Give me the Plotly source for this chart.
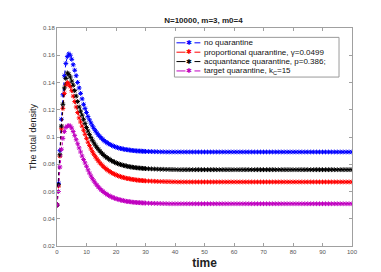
import plotly.graph_objects as go

times = [i / 2 for i in range(61)] + list(range(31, 101))

no_q = [
    0.050, 0.066, 0.090, 0.113, 0.131, 0.145, 0.154, 0.159, 0.161, 0.160,
    0.157, 0.153, 0.149, 0.145, 0.140, 0.136, 0.132, 0.128, 0.124, 0.121,
    0.118, 0.115, 0.1126, 0.1103, 0.1082, 0.1063, 0.1046, 0.1030, 0.1016, 0.1004,
    0.0993, 0.0982, 0.0973, 0.0965, 0.0958, 0.0951, 0.0945, 0.0939, 0.0934, 0.0930,
    0.0926, 0.0922, 0.0919, 0.0916, 0.0914, 0.0911, 0.0909, 0.0907, 0.0906, 0.0904,
    0.0903, 0.0901, 0.0900, 0.0899, 0.0898, 0.0897, 0.0897, 0.0896, 0.0895, 0.0895,
    0.0894,
    0.0893, 0.0893, 0.0892, 0.0892, 0.0891, 0.0891, 0.0890, 0.0890, 0.0890, 0.0890,
    0.089, 0.089, 0.089, 0.089, 0.089, 0.089, 0.089, 0.089, 0.089, 0.089,
    0.089, 0.089, 0.089, 0.089, 0.089, 0.089, 0.089, 0.089, 0.089, 0.089,
    0.089, 0.089, 0.089, 0.089, 0.089, 0.089, 0.089, 0.089, 0.089, 0.089,
    0.089, 0.089, 0.089, 0.089, 0.089, 0.089, 0.089, 0.089, 0.089, 0.089,
    0.089, 0.089, 0.089, 0.089, 0.089, 0.089, 0.089, 0.089, 0.089, 0.089,
    0.089, 0.089, 0.089, 0.089, 0.089, 0.089, 0.089, 0.089, 0.089, 0.089,
]

proportional = [
    0.050, 0.064, 0.086, 0.106, 0.121, 0.132, 0.138, 0.140, 0.139, 0.137,
    0.134, 0.130, 0.126, 0.122, 0.118, 0.114, 0.111, 0.108, 0.105, 0.102,
    0.099, 0.0962, 0.0937, 0.0913, 0.0892, 0.0873, 0.0855, 0.0839, 0.0825, 0.0811,
    0.0799, 0.0788, 0.0777, 0.0768, 0.0760, 0.0752, 0.0745, 0.0738, 0.0732, 0.0727,
    0.0722, 0.0717, 0.0713, 0.0709, 0.0706, 0.0703, 0.0700, 0.0697, 0.0695, 0.0693,
    0.0691, 0.0689, 0.0687, 0.0686, 0.0684, 0.0683, 0.0682, 0.0681, 0.0680, 0.0679,
    0.0678,
    0.0677, 0.0676, 0.0675, 0.0674, 0.0673, 0.0673, 0.0672, 0.0672, 0.0671, 0.0671,
    0.067, 0.067, 0.067, 0.067, 0.067, 0.067, 0.067, 0.067, 0.067, 0.067,
    0.067, 0.067, 0.067, 0.067, 0.067, 0.067, 0.067, 0.067, 0.067, 0.067,
    0.067, 0.067, 0.067, 0.067, 0.067, 0.067, 0.067, 0.067, 0.067, 0.067,
    0.067, 0.067, 0.067, 0.067, 0.067, 0.067, 0.067, 0.067, 0.067, 0.067,
    0.067, 0.067, 0.067, 0.067, 0.067, 0.067, 0.067, 0.067, 0.067, 0.067,
    0.067, 0.067, 0.067, 0.067, 0.067, 0.067, 0.067, 0.067, 0.067, 0.067,
]

acquaintance = [
    0.050, 0.065, 0.087, 0.108, 0.124, 0.136, 0.143, 0.147, 0.146, 0.144,
    0.141, 0.138, 0.134, 0.130, 0.126, 0.122, 0.119, 0.116, 0.113, 0.110,
    0.107, 0.1043, 0.1019, 0.0996, 0.0976, 0.0957, 0.0940, 0.0924, 0.0910, 0.0897,
    0.0885, 0.0874, 0.0864, 0.0855, 0.0847, 0.0839, 0.0833, 0.0826, 0.0821, 0.0815,
    0.0810, 0.0806, 0.0802, 0.0798, 0.0795, 0.0792, 0.0789, 0.0787, 0.0784, 0.0782,
    0.0780, 0.0779, 0.0777, 0.0775, 0.0774, 0.0773, 0.0772, 0.0771, 0.0770, 0.0769,
    0.0768,
    0.0767, 0.0766, 0.0765, 0.0764, 0.0763, 0.0763, 0.0762, 0.0762, 0.0761, 0.0761,
    0.076, 0.076, 0.076, 0.076, 0.076, 0.076, 0.076, 0.076, 0.076, 0.076,
    0.076, 0.076, 0.076, 0.076, 0.076, 0.076, 0.076, 0.076, 0.076, 0.076,
    0.076, 0.076, 0.076, 0.076, 0.076, 0.076, 0.076, 0.076, 0.076, 0.076,
    0.076, 0.076, 0.076, 0.076, 0.076, 0.076, 0.076, 0.076, 0.076, 0.076,
    0.076, 0.076, 0.076, 0.076, 0.076, 0.076, 0.076, 0.076, 0.076, 0.076,
    0.076, 0.076, 0.076, 0.076, 0.076, 0.076, 0.076, 0.076, 0.076, 0.076,
]

target = [
    0.050, 0.060, 0.078, 0.091, 0.099, 0.104, 0.107, 0.108, 0.1084, 0.108,
    0.1065, 0.104, 0.101, 0.098, 0.095, 0.092, 0.089, 0.086, 0.0835, 0.081,
    0.0785, 0.0759, 0.0735, 0.0714, 0.0694, 0.0677, 0.0661, 0.0647, 0.0634, 0.0622,
    0.0611, 0.0602, 0.0593, 0.0585, 0.0578, 0.0571, 0.0565, 0.0560, 0.0556, 0.0551,
    0.0547, 0.0544, 0.0541, 0.0538, 0.0535, 0.0533, 0.0530, 0.0528, 0.0527, 0.0525,
    0.0524, 0.0522, 0.0521, 0.0520, 0.0519, 0.0518, 0.0518, 0.0517, 0.0516, 0.0516,
    0.0515,
    0.0514, 0.0513, 0.0513, 0.0512, 0.0512, 0.0511, 0.0511, 0.0510, 0.0510, 0.0510,
    0.051, 0.051, 0.051, 0.051, 0.051, 0.051, 0.051, 0.051, 0.051, 0.051,
    0.051, 0.051, 0.051, 0.051, 0.051, 0.051, 0.051, 0.051, 0.051, 0.051,
    0.051, 0.051, 0.051, 0.051, 0.051, 0.051, 0.051, 0.051, 0.051, 0.051,
    0.051, 0.051, 0.051, 0.051, 0.051, 0.051, 0.051, 0.051, 0.051, 0.051,
    0.051, 0.051, 0.051, 0.051, 0.051, 0.051, 0.051, 0.051, 0.051, 0.051,
    0.051, 0.051, 0.051, 0.051, 0.051, 0.051, 0.051, 0.051, 0.051, 0.051,
]

series_names = [
    "no quarantine",
    "proportional quarantine, γ=0.0499",
    "acquantance quarantine, p=0.386;",
    "target quarantine, k<sub>C</sub>=15",
]
series_values = [no_q, proportional, acquaintance, target]
series_colors = ["#0000ff", "#ff0000", "#000000", "#c000c0"]

y_ticks = [0.02, 0.04, 0.06, 0.08, 0.1, 0.12, 0.14, 0.16, 0.18]
y_tick_labels = ["0.02", "0.04", "0.06", "0.08", "0.1", "0.12", "0.14", "0.16", "0.18"]
x_ticks = [0, 10, 20, 30, 40, 50, 60, 70, 80, 90, 100]

FONT = "Liberation Sans, Arial, Helvetica"

fig = go.Figure()
for name, vals, col in zip(series_names, series_values, series_colors):
    fig.add_trace(go.Scatter(
        x=times, y=vals, name=name, mode="lines+markers", showlegend=False,
        line=dict(color=col, width=1, dash="dot"),
        marker=dict(symbol="asterisk-open", size=4, color=col,
                    line=dict(color=col, width=1)),
    ))

# legend (drawn as box + samples + real text, in paper coordinates)
shapes = [dict(type="rect", xref="paper", yref="paper",
               x0=0.398, x1=0.956, y0=0.775, y1=0.957,
               line=dict(color="#9a9a9a", width=1), fillcolor="white", layer="above")]
annotations = []
row_y = [0.932, 0.889, 0.846, 0.803]
for name, col, ry in zip(series_names, series_colors, row_y):
    shapes.append(dict(type="line", xref="paper", yref="paper",
                       x0=0.405, x1=0.486, y0=ry, y1=ry,
                       line=dict(color=col, width=1, dash="dash"), layer="above"))
    annotations.append(dict(xref="paper", yref="paper", x=0.446, y=ry,
                            text="✱", showarrow=False, xanchor="center", yanchor="middle",
                            font=dict(size=7, color=col, family="DejaVu Sans")))
    annotations.append(dict(xref="paper", yref="paper", x=0.491, y=ry,
                            text=name, showarrow=False, xanchor="left", yanchor="middle",
                            font=dict(size=8, color="#111111", family=FONT)))

axis_common = dict(
    showgrid=False, zeroline=False, showline=True, linecolor="#a0a0a0",
    linewidth=1, mirror="ticks", ticks="inside", ticklen=3, tickcolor="#a0a0a0",
    tickfont=dict(size=6, color="#555555", family=FONT),
)

fig.update_layout(
    width=381, height=272,
    margin=dict(l=49, r=37, t=20, b=30),
    paper_bgcolor="white", plot_bgcolor="white",
    title=dict(text="<b>N=10000, m=3, m0=4</b>", x=0.513, xanchor="center",
               y=0.955, yanchor="middle",
               font=dict(size=8, color="#222222", family=FONT)),
    xaxis=dict(range=[0, 100], tickvals=x_ticks,
               title=dict(text="<b>time</b>", standoff=4,
                          font=dict(size=12, color="#222222", family=FONT)),
               **axis_common),
    yaxis=dict(range=[0.02, 0.18], tickvals=y_ticks, ticktext=y_tick_labels,
               title=dict(text="The total density", standoff=4,
                          font=dict(size=9, color="#222222", family=FONT)),
               **axis_common),
    shapes=shapes,
    annotations=annotations,
    showlegend=False,
)

fig.write_html("out.html")
